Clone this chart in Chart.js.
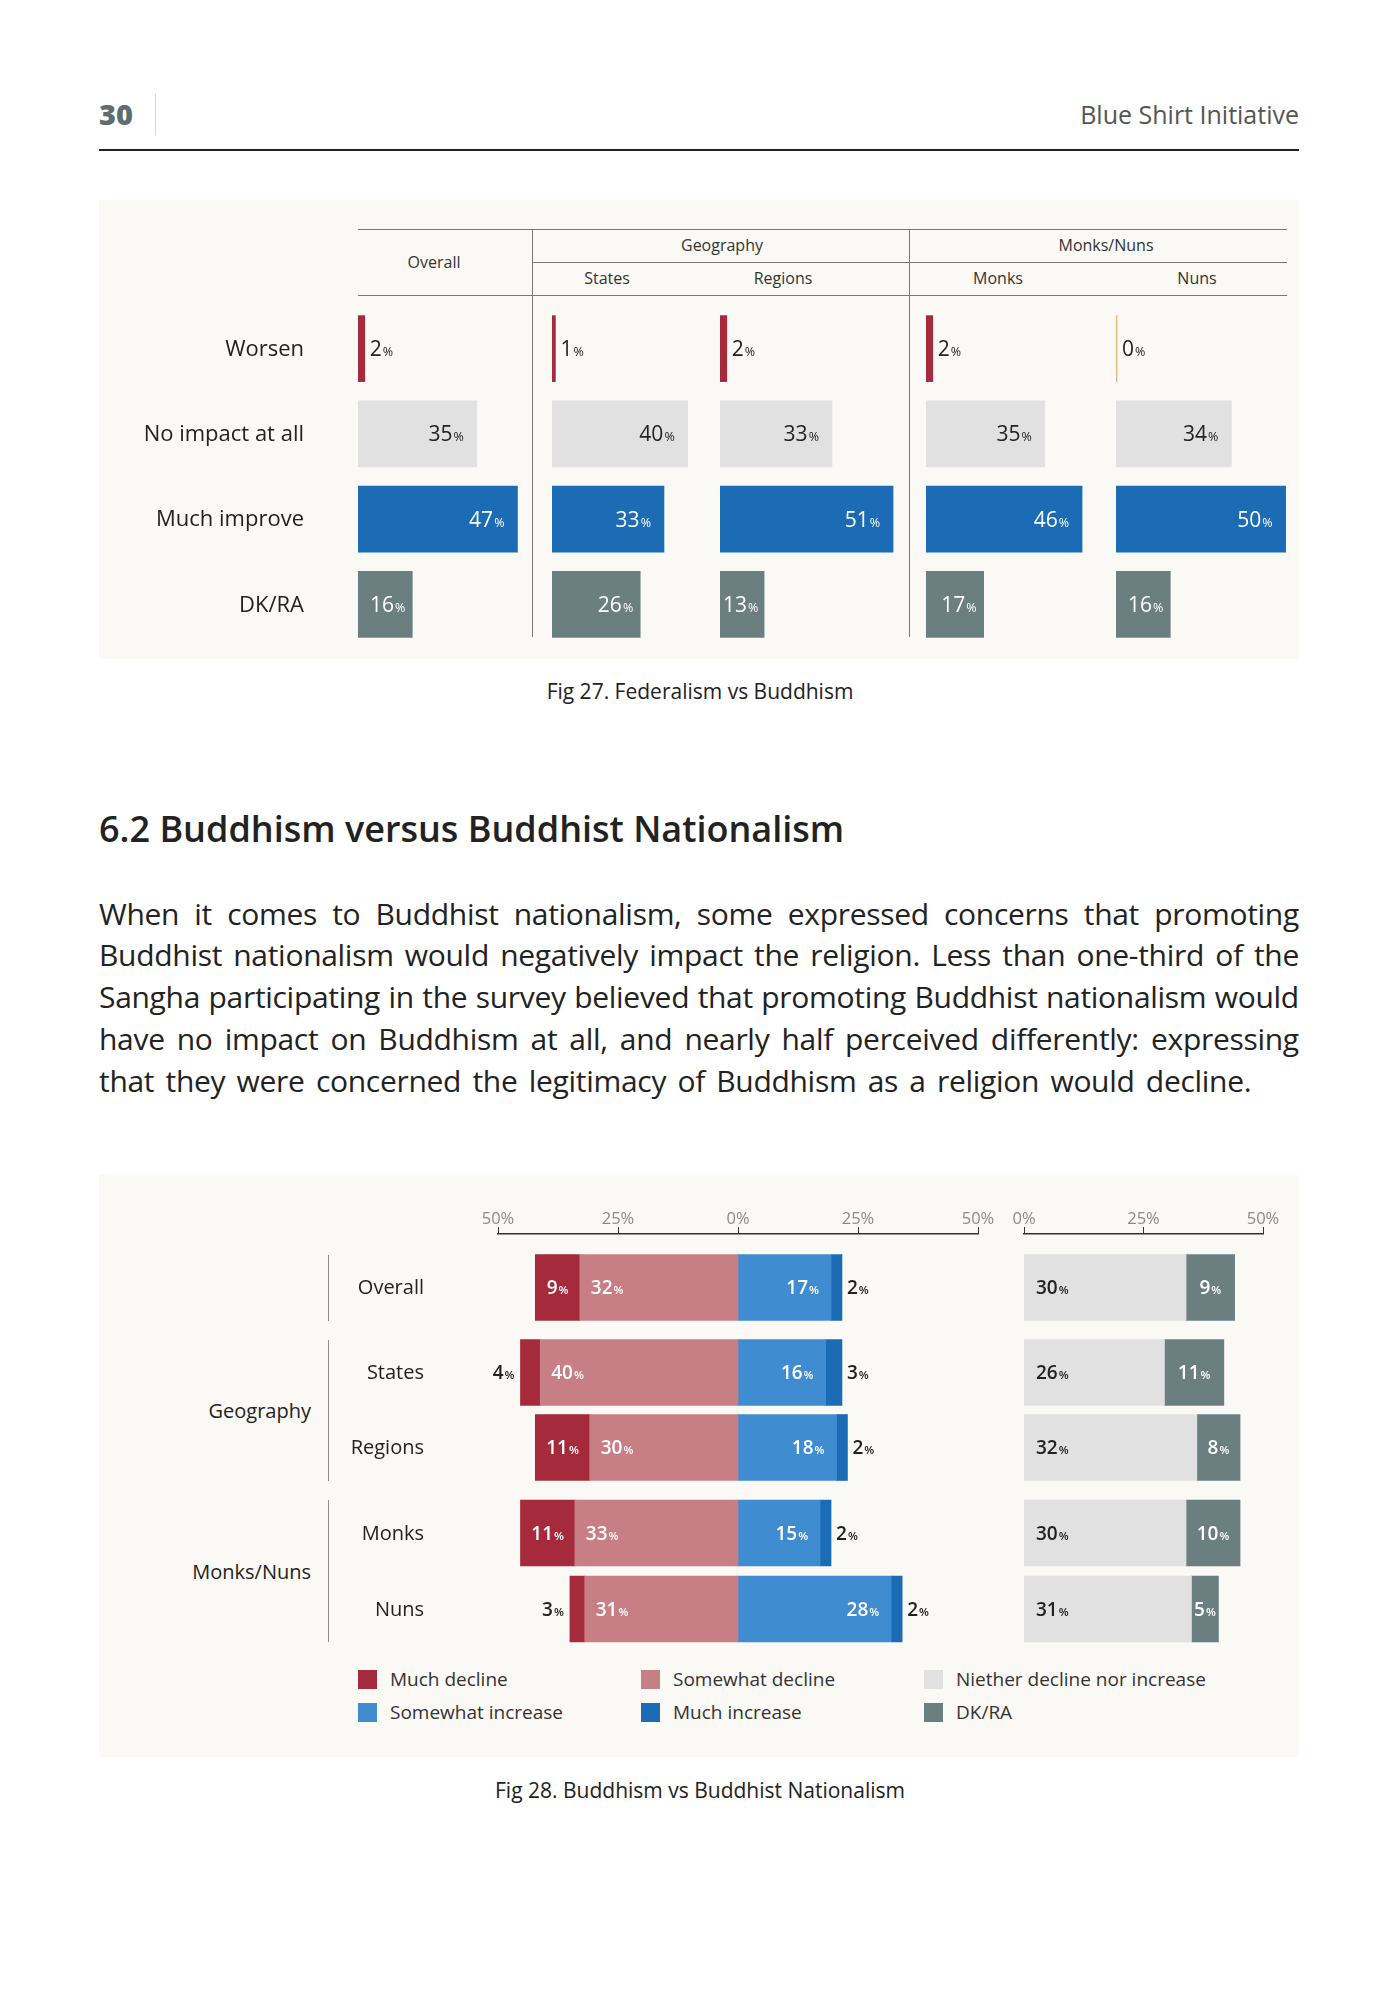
<!DOCTYPE html>
<html>
<head>
<meta charset="utf-8">
<script src="https://cdn.jsdelivr.net/npm/chart.js@4.4.1/dist/chart.umd.min.js"></script>
<style>
  body { margin: 0; background: #fff; font-family: "Open Sans", sans-serif; color: #222; }
  #page { position: relative; width: 1400px; height: 2000px; overflow: hidden; }
  .box, .txt, canvas { position: absolute; }
  .txt { white-space: nowrap; }
  .pline { position: absolute; left: 99px; width: 1200px; display: flex; justify-content: space-between; white-space: nowrap; font-size: 30px; letter-spacing: -0.3px; line-height: 42px; color: #222; }
  .pline.last { display: block; word-spacing: 3.8px; }
  .legend-sq { position: absolute; width: 19px; height: 19px; }
</style>
</head>
<body>
<div id="page"></div>
<script>
// ---- Fig 27: Federalism vs Buddhism ----
const fedCategories = ["Worsen", "No impact at all", "Much improve", "DK/RA"];
const fedOverall = [2, 35, 47, 16];
const fedStates = [1, 40, 33, 26];
const fedRegions = [2, 33, 51, 13];
const fedMonks = [2, 35, 46, 17];
const fedNuns = [0, 34, 50, 16];

// ---- Fig 28: Buddhism vs Buddhist Nationalism ----
const natRows = ["Overall", "States", "Regions", "Monks", "Nuns"];
const natGroups = ["", "Geography", "Monks/Nuns"];
const natGroupRows = [[0], [1, 2], [3, 4]];
const muchDecline = [9, 4, 11, 11, 3];
const somewhatDecline = [32, 40, 30, 33, 31];
const somewhatIncrease = [17, 16, 18, 15, 28];
const muchIncrease = [2, 3, 2, 2, 2];
const neither = [30, 26, 32, 30, 31];
const dkra = [9, 11, 8, 10, 5];
const natSeries = ["Much decline", "Somewhat decline", "Niether decline nor increase",
                   "Somewhat increase", "Much increase", "DK/RA"];

const C = {
  red: "#a52a3c", pink: "#c77e85", lightBlue: "#3f8dd0", blue: "#1b6cb4",
  grey: "#e1e1e1", slate: "#6b7e80", zero: "#e2b87a"
};
const natColors = [C.red, C.pink, C.grey, C.lightBlue, C.blue, C.slate];
const fedColors = [C.red, C.grey, C.blue, C.slate];

// the original draws its bars a bit longer than its own axis says
const DEC_STRETCH = 1.03;
const INC_STRETCH = 1.14;
const RIGHT_STRETCH = 1.13;

Chart.defaults.font.family = '"Open Sans", sans-serif';

const page = document.getElementById("page");

function box(left, top, w, h, bg) {
  const d = document.createElement("div");
  d.className = "box";
  d.style.cssText = `left:${left}px;top:${top}px;width:${w}px;height:${h}px;background:${bg}`;
  page.appendChild(d);
  return d;
}

function addText(txt, x, y, o) {
  const d = document.createElement("div");
  d.className = "txt";
  d.textContent = txt;
  const lh = Math.round(o.size * 1.4);
  d.style.fontSize = o.size + "px";
  d.style.lineHeight = lh + "px";
  d.style.top = (y - lh / 2) + "px";
  d.style.color = o.color || "#222";
  if (o.weight) d.style.fontWeight = o.weight;
  if (o.align === "right") d.style.right = (1400 - x) + "px";
  else if (o.align === "center") {
    d.style.left = (x - 400) + "px"; d.style.width = "800px"; d.style.textAlign = "center";
  } else d.style.left = x + "px";
  page.appendChild(d);
  return d;
}

function makeCanvas(left, top, w, h) {
  const c = document.createElement("canvas");
  c.width = w; c.height = h;
  c.style.left = left + "px"; c.style.top = top + "px";
  c.style.width = w + "px"; c.style.height = h + "px";
  page.appendChild(c);
  return c.getContext("2d");
}

// value labels: big number + small %
const valueLabels = {
  id: "valueLabels",
  afterDatasetsDraw(chart, args, opts) {
    if (!opts.big) return;
    const ctx = chart.ctx;
    const bigFont = `${opts.weight} ${opts.big}px "Open Sans"`;
    const smallFont = `${opts.weight} ${opts.small}px "Open Sans"`;
    chart.data.datasets.forEach((ds, di) => {
      const meta = chart.getDatasetMeta(di);
      meta.data.forEach((bar, i) => {
        const st = Array.isArray(ds.labelStyle) ? ds.labelStyle[i] : ds.labelStyle;
        if (!st) return;
        const num = String(Math.abs(ds.data[i]));
        const p = bar.getProps(["x", "y", "base"], true);
        const L = Math.min(p.x, p.base), R = Math.max(p.x, p.base);
        ctx.save();
        ctx.font = bigFont;
        const w1 = ctx.measureText(num).width;
        ctx.font = smallFont;
        const w2 = ctx.measureText("%").width;
        const w = w1 + 1 + w2;
        let x, color = st.color;
        if (st.mode === "rightOut") x = R + st.pad;
        else if (st.mode === "rightIn") x = Math.max(R - st.pad - w, L + 3);
        else if (st.mode === "leftIn") x = L + st.pad;
        else if (st.mode === "center") x = (L + R) / 2 - w / 2;
        else if (st.mode === "centerOrLeftOut") {
          if (R - L >= w + 6) x = (L + R) / 2 - w / 2;
          else { x = L - st.pad - w; color = st.outColor; }
        }
        const yb = p.y + opts.big * 0.36;
        ctx.fillStyle = color;
        ctx.textAlign = "left";
        ctx.textBaseline = "alphabetic";
        ctx.font = bigFont;
        ctx.fillText(num, x, yb);
        ctx.font = smallFont;
        ctx.fillText("%", x + w1 + 1, yb);
        ctx.restore();
      });
    });
  }
};

// category names drawn left of the plot area
const rowLabels = {
  id: "rowLabels",
  afterDraw(chart, args, opts) {
    if (!opts.size) return;
    const ctx = chart.ctx, y = chart.scales.y;
    ctx.save();
    ctx.font = `${opts.size}px "Open Sans"`;
    ctx.fillStyle = opts.color;
    ctx.textAlign = "right";
    ctx.textBaseline = "middle";
    chart.data.labels.forEach((lab, i) => {
      ctx.fillText(lab, chart.chartArea.left - opts.gap, y.getPixelForValue(i) + 1);
    });
    ctx.restore();
  }
};
Chart.register(valueLabels, rowLabels);

const baseOpts = {
  indexAxis: "y", responsive: false, animation: false, devicePixelRatio: 1,
  events: []
};

// ---------- page header ----------
addText("30", 99, 113, { size: 29, weight: 800, color: "#5d6d70" });
box(155, 94, 1, 41, "#d6d6d6");
addText("Blue Shirt Initiative", 1299, 114, { size: 25, align: "right", color: "#555" });
box(99, 149, 1200, 1.5, "#222");

// ---------- Fig 27 ----------
box(99, 200, 1200, 459, "#fbf9f5");
box(358, 229, 929, 1, "#777");
box(532, 262, 755, 1, "#777");
box(358, 295, 929, 1, "#777");
box(532, 229, 1, 408, "#777");
box(909, 229, 1, 408, "#777");
addText("Overall", 434, 262, { size: 16, color: "#333", align: "center" });
addText("Geography", 722, 245, { size: 16, color: "#333", align: "center" });
addText("Monks/Nuns", 1106, 245, { size: 16, color: "#333", align: "center" });
[["States", 607], ["Regions", 783], ["Monks", 998], ["Nuns", 1197]].forEach(([t, x]) =>
  addText(t, x, 278, { size: 16, color: "#333", align: "center" }));

const fedLabelStyle = [
  { mode: "rightOut", color: "#222", pad: 5 },
  { mode: "rightIn", color: "#222", pad: 13 },
  { mode: "rightIn", color: "#fff", pad: 13 },
  { mode: "rightIn", color: "#fff", pad: 7 }
];

function fedChart(values, areaLeft, withLabels) {
  const padLeft = withLabels ? 250 : 0;
  const ctx = makeCanvas(areaLeft - padLeft, 306, 190 + padLeft, 341);
  return new Chart(ctx, {
    type: "bar",
    data: {
      labels: fedCategories,
      datasets: [{
        data: values,
        backgroundColor: values.map((v, i) => (v === 0 ? C.zero : fedColors[i])),
        barThickness: 66, minBarLength: 1, borderWidth: 0,
        labelStyle: fedLabelStyle
      }]
    },
    options: {
      ...baseOpts,
      layout: { padding: { left: padLeft } },
      scales: { x: { display: false, min: 0, max: 56 }, y: { display: false } },
      plugins: {
        legend: { display: false }, tooltip: { enabled: false },
        valueLabels: { big: 21, small: 12.5, weight: 500 },
        rowLabels: withLabels ? { size: 22, gap: 54, color: "#222" } : {}
      }
    }
  });
}
fedChart(fedOverall, 358, true);
fedChart(fedStates, 552, false);
fedChart(fedRegions, 720, false);
fedChart(fedMonks, 926, false);
fedChart(fedNuns, 1116, false);

addText("Fig 27. Federalism vs Buddhism", 700, 691, { size: 21, align: "center" });

// ---------- section text ----------
addText("6.2 Buddhism versus Buddhist Nationalism", 99, 829, { size: 36, weight: 600, color: "#222" });
const para = [
  "When it comes to Buddhist nationalism, some expressed concerns that promoting",
  "Buddhist nationalism would negatively impact the religion. Less than one-third of the",
  "Sangha participating in the survey believed that promoting Buddhist nationalism would",
  "have no impact on Buddhism at all, and nearly half perceived differently: expressing",
  "that they were concerned the legitimacy of Buddhism as a religion would decline."
];
const paraY = [914, 955, 997, 1039, 1081];
para.forEach((line, i) => {
  const d = document.createElement("div");
  d.className = "pline";
  d.style.top = (paraY[i] - 21) + "px";
  if (i === para.length - 1) { d.classList.add("last"); d.textContent = line; }
  else line.split(" ").forEach(w => { const s = document.createElement("span"); s.textContent = w; d.appendChild(s); });
  page.appendChild(d);
});

// ---------- Fig 28 ----------
box(99, 1175, 1200, 582, "#fbf9f5");

function axisChart(left, width, min, max) {
  const ctx = makeCanvas(left - 30, 1194, width + 60, 50);
  return new Chart(ctx, {
    type: "bar",
    data: { labels: [""], datasets: [] },
    options: {
      ...baseOpts,
      layout: { padding: { left: 30, right: 30, top: 10 } },
      scales: {
        x: {
          position: "top", min: min, max: max,
          afterFit: (s) => { s.height = 30; },
          ticks: { stepSize: 25, color: "#8a8a8a", font: { size: 16.5 }, padding: -2,
                   callback: (v) => Math.abs(v) + "%" },
          grid: { drawOnChartArea: false, drawTicks: true, tickLength: 7, color: "#333", lineWidth: 1 },
          border: { display: true, color: "#333", width: 1.5 }
        },
        y: { display: false }
      },
      plugins: { legend: { display: false }, tooltip: { enabled: false } }
    }
  });
}
axisChart(498, 480, -50, 50);
axisChart(1024, 239, 0, 50);

const groupTops = [1250, 1335, 1495];
const groupHeights = [75, 150, 152];
const sepSpans = [[1255, 1321], [1340, 1481], [1500, 1642]];
const groupLabelY = [0, 1411, 1572];

natGroups.forEach((g, gi) => {
  const rows = natGroupRows[gi];
  const pick = (arr) => rows.map((r) => arr[r]);
  box(328, sepSpans[gi][0], 1, sepSpans[gi][1] - sepSpans[gi][0], "#8d8d8d");
  if (g) addText(g, 311, groupLabelY[gi], { size: 20, align: "right" });

  // diverging decline / increase
  new Chart(makeCanvas(330, groupTops[gi], 648, groupHeights[gi]), {
    type: "bar",
    data: {
      labels: pick(natRows),
      datasets: [
        { label: natSeries[1], data: pick(somewhatDecline).map((v) => -v), backgroundColor: C.pink,
          xAxisID: "x", barThickness: 66, labelStyle: { mode: "leftIn", color: "#fff", pad: 11 } },
        { label: natSeries[0], data: pick(muchDecline).map((v) => -v), backgroundColor: C.red,
          xAxisID: "x", barThickness: 66,
          labelStyle: { mode: "centerOrLeftOut", color: "#fff", outColor: "#222", pad: 6 } },
        { label: natSeries[3], data: pick(somewhatIncrease), backgroundColor: C.lightBlue,
          xAxisID: "xInc", barThickness: 66, labelStyle: { mode: "rightIn", color: "#fff", pad: 12 } },
        { label: natSeries[4], data: pick(muchIncrease), backgroundColor: C.blue,
          xAxisID: "xInc", barThickness: 66, labelStyle: { mode: "rightOut", color: "#222", pad: 5 } }
      ]
    },
    options: {
      ...baseOpts,
      layout: { padding: { left: 168 } },
      scales: {
        x: { display: false, stacked: true, min: -50 / DEC_STRETCH, max: 50 / DEC_STRETCH },
        xInc: { display: false, stacked: true, axis: "x", min: -50 / INC_STRETCH, max: 50 / INC_STRETCH },
        y: { display: false, stacked: true }
      },
      plugins: {
        legend: { display: false }, tooltip: { enabled: false },
        valueLabels: { big: 19, small: 11.5, weight: 600 },
        rowLabels: { size: 20, gap: 74, color: "#222" }
      }
    }
  });

  // neither / DK-RA
  new Chart(makeCanvas(1024, groupTops[gi], 239, groupHeights[gi]), {
    type: "bar",
    data: {
      labels: pick(natRows),
      datasets: [
        { label: natSeries[2], data: pick(neither), backgroundColor: C.grey, barThickness: 66,
          labelStyle: { mode: "leftIn", color: "#222", pad: 12 } },
        { label: natSeries[5], data: pick(dkra), backgroundColor: C.slate, barThickness: 66,
          labelStyle: { mode: "center", color: "#fff" } }
      ]
    },
    options: {
      ...baseOpts,
      scales: {
        x: { display: false, stacked: true, min: 0, max: 50 / RIGHT_STRETCH },
        y: { display: false, stacked: true }
      },
      plugins: {
        legend: { display: false }, tooltip: { enabled: false },
        valueLabels: { big: 19, small: 11.5, weight: 600 }
      }
    }
  });
});

// legend, 3 columns x 2 rows
const legendX = [358, 641, 924];
const legendY = [1679, 1712];
natSeries.forEach((name, i) => {
  const x = legendX[i % 3], y = legendY[Math.floor(i / 3)];
  const sq = document.createElement("div");
  sq.className = "legend-sq";
  sq.style.left = x + "px"; sq.style.top = (y - 9.5) + "px"; sq.style.background = natColors[i];
  page.appendChild(sq);
  addText(name, x + 32, y, { size: 19, color: "#333" });
});

addText("Fig 28. Buddhism vs Buddhist Nationalism", 700, 1790, { size: 21, align: "center" });
</script>
</body>
</html>
